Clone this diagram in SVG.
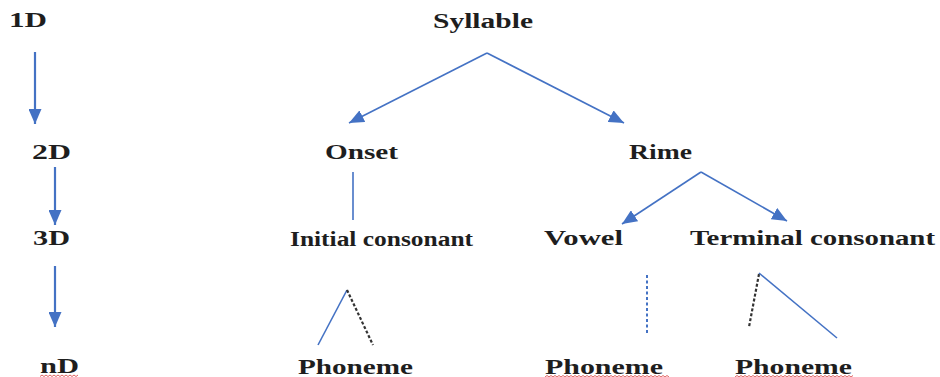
<svg xmlns="http://www.w3.org/2000/svg" width="940" height="377" viewBox="0 0 940 377">
<style>
text{font-family:"Liberation Serif","Times New Roman",serif;font-size:20px;font-weight:bold;fill:#1e1e1e}
.c{stroke:#4472C4;stroke-width:1.6;fill:none}
.l{stroke:#4472C4;stroke-width:2.2;fill:none}
.bd{stroke:#333;stroke-width:2.2;stroke-dasharray:3 2;fill:none}
.dd{stroke:#4472C4;stroke-width:2;stroke-dasharray:3 2.5;fill:none}
.sq{stroke:#e06060;stroke-width:1;fill:none}
</style>
<defs>
<marker id="ah" markerUnits="userSpaceOnUse" markerWidth="15" markerHeight="13" viewBox="0 0 15 13" refX="15" refY="6.5" orient="auto">
<path d="M0,0 L15,6.5 L0,13 z" fill="#4472C4"/>
</marker>
</defs>
<rect width="940" height="377" fill="#fff"/>
<g id="levels">
<text id="l1" x="9" y="27" textLength="38" lengthAdjust="spacingAndGlyphs">1D</text>
<text id="l2" x="32" y="159" textLength="39" lengthAdjust="spacingAndGlyphs">2D</text>
<text id="l3" x="33" y="245" textLength="37" lengthAdjust="spacingAndGlyphs">3D</text>
<text id="ln" x="40" y="373" textLength="39" lengthAdjust="spacingAndGlyphs">nD</text>
</g>
<g id="syllable"><text x="433" y="28" textLength="100" lengthAdjust="spacingAndGlyphs">Syllable</text></g>
<g id="onset"><text x="325" y="159" textLength="73" lengthAdjust="spacingAndGlyphs">Onset</text></g>
<g id="rime"><text x="629" y="159" textLength="63" lengthAdjust="spacingAndGlyphs">Rime</text></g>
<g id="initial"><text x="290" y="246" textLength="183" lengthAdjust="spacingAndGlyphs">Initial consonant</text></g>
<g id="vowel"><text x="544" y="245" textLength="79" lengthAdjust="spacingAndGlyphs">Vowel</text></g>
<g id="terminal"><text x="690" y="245" textLength="245" lengthAdjust="spacingAndGlyphs">Terminal consonant</text></g>
<g id="phoneme1"><text x="298" y="374" textLength="115" lengthAdjust="spacingAndGlyphs">Phoneme</text></g>
<g id="phoneme2"><text x="545" y="374" textLength="118" lengthAdjust="spacingAndGlyphs">Phoneme</text></g>
<g id="phoneme3"><text x="735" y="374" textLength="117" lengthAdjust="spacingAndGlyphs">Phoneme</text></g>
<g id="connectors">
<line class="l" x1="35" y1="52" x2="35" y2="124" marker-end="url(#ah)"/>
<line class="l" x1="55" y1="167" x2="55" y2="225" marker-end="url(#ah)"/>
<line class="l" x1="55" y1="266" x2="55" y2="327" marker-end="url(#ah)"/>
<line class="c" x1="487" y1="53" x2="349" y2="123" marker-end="url(#ah)"/>
<line class="c" x1="487" y1="53" x2="624" y2="123" marker-end="url(#ah)"/>
<line class="c" x1="353" y1="172" x2="353" y2="220"/>
<line class="c" x1="701" y1="172" x2="622" y2="224" marker-end="url(#ah)"/>
<line class="c" x1="701" y1="172" x2="787" y2="221" marker-end="url(#ah)"/>
<line class="c" x1="318" y1="345" x2="347" y2="290"/>
<line class="bd" x1="347" y1="290" x2="373" y2="345"/>
<line class="dd" x1="647" y1="275" x2="647" y2="335"/>
<line class="bd" x1="759" y1="274" x2="749" y2="327"/>
<line class="c" x1="759" y1="273" x2="837" y2="338"/>
</g>
<g id="spellcheck">
<path class="sq" d="M40,376.5 l2,-1.5 l2,1.5 l2,-1.5 l2,1.5 l2,-1.5 l2,1.5 l2,-1.5 l2,1.5 l2,-1.5 l2,1.5 l2,-1.5 l2,1.5 l2,-1.5 l2,1.5 l2,-1.5 l2,1.5 l2,-1.5 l2,1.5 l2,-1.5"/>
<path class="sq" d="M545,377 l2,-1.5 l2,1.5 l2,-1.5 l2,1.5 l2,-1.5 l2,1.5 l2,-1.5 l2,1.5 l2,-1.5 l2,1.5 l2,-1.5 l2,1.5 l2,-1.5 l2,1.5 l2,-1.5 l2,1.5 l2,-1.5 l2,1.5 l2,-1.5 l2,1.5 l2,-1.5 l2,1.5 l2,-1.5 l2,1.5 l2,-1.5 l2,1.5 l2,-1.5 l2,1.5 l2,-1.5 l2,1.5 l2,-1.5 l2,1.5 l2,-1.5 l2,1.5 l2,-1.5 l2,1.5 l2,-1.5 l2,1.5 l2,-1.5 l2,1.5 l2,-1.5 l2,1.5 l2,-1.5 l2,1.5 l2,-1.5 l2,1.5 l2,-1.5 l2,1.5 l2,-1.5 l2,1.5 l2,-1.5 l2,1.5 l2,-1.5 l2,1.5 l2,-1.5 l2,1.5 l2,-1.5 l2,1.5 l2,-1.5 l2,1.5 l2,-1.5 l2,1.5"/>
<path class="sq" d="M735,377 l2,-1.5 l2,1.5 l2,-1.5 l2,1.5 l2,-1.5 l2,1.5 l2,-1.5 l2,1.5 l2,-1.5 l2,1.5 l2,-1.5 l2,1.5 l2,-1.5 l2,1.5 l2,-1.5 l2,1.5 l2,-1.5 l2,1.5 l2,-1.5 l2,1.5 l2,-1.5 l2,1.5 l2,-1.5 l2,1.5 l2,-1.5 l2,1.5 l2,-1.5 l2,1.5 l2,-1.5 l2,1.5 l2,-1.5 l2,1.5 l2,-1.5 l2,1.5 l2,-1.5 l2,1.5 l2,-1.5 l2,1.5 l2,-1.5 l2,1.5 l2,-1.5 l2,1.5 l2,-1.5 l2,1.5 l2,-1.5 l2,1.5 l2,-1.5 l2,1.5 l2,-1.5 l2,1.5 l2,-1.5 l2,1.5 l2,-1.5 l2,1.5 l2,-1.5 l2,1.5 l2,-1.5 l2,1.5 l2,-1.5"/>
</g>
</svg>
